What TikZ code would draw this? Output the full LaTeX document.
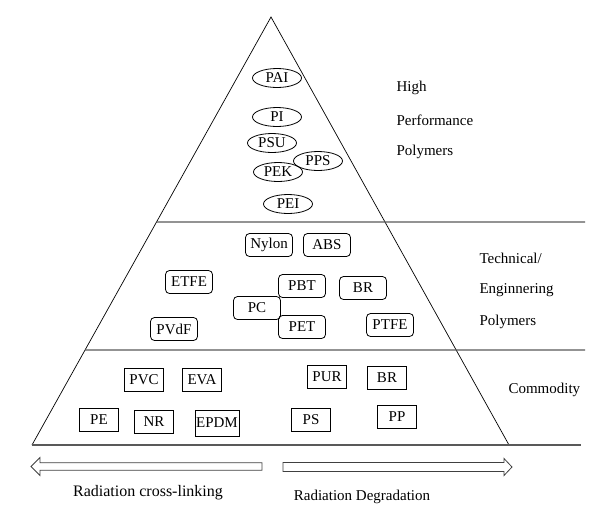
\documentclass[tikz,border=0pt]{standalone}
\usepackage{fontspec}
\setmainfont{Liberation Serif}
\usetikzlibrary{shapes.geometric,calc}

\begin{document}
\begin{tikzpicture}[x=1pt,y=-1pt,
  every node/.style={font=\fontsize{15}{17}\selectfont},
  ell/.style={draw,line width=0.8pt,ellipse,minimum width=49pt,minimum height=19pt,inner sep=0pt},
  rbox/.style={draw,line width=0.8pt,rounded corners=4pt,minimum width=47pt,minimum height=23pt,inner sep=0pt},
  sbox/.style={draw,line width=0.8pt,minimum width=39pt,minimum height=23pt,inner sep=0pt},
  level/.style={draw=black!65,line width=1.1pt},
  side/.style={draw,line width=0.7pt},
  band/.style={anchor=west}]
  \useasboundingbox (0,0) rectangle (589,504);

  % pyramid
  \coordinate (top) at (271,17);
  \coordinate (bl) at (32,445);
  \coordinate (br) at (509,445);
  \coordinate (l1) at ($(top)!0.479!(bl)$);
  \coordinate (l2) at ($(top)!0.778!(bl)$);
  \coordinate (r1) at (585,222);
  \coordinate (r2) at (585,350);
  \coordinate (rb) at (581,445);
  \draw[side] (bl) -- (top) -- (br);
  \draw[level] (l1) -- (r1);
  \draw[level] (l2) -- (r2);
  \draw[level] (bl) -- (rb);

  % high performance
  \node[ell] (pai) at (277,78) {PAI};
  \node[ell] (pi) at (277,117) {PI};
  \node[ell] (psu) at (272,143) {PSU};
  \node[ell] (pek) at (278,172) {PEK};
  \node[ell] (pps) at (318,161) {PPS};
  \node[ell] (pei) at (288,204) {PEI};

  % technical
  \node[rbox] (nylon) at (269,245) {Nylon};
  \node[rbox] (abs) at (327,245) {ABS};
  \node[rbox] (etfe) at (189,282) {ETFE};
  \node[rbox] (pbt) at (302,286) {PBT};
  \node[rbox] (brt) at (363,288) {BR};
  \node[rbox] (pc) at (257,308) {PC};
  \node[rbox] (pet) at (302,327) {PET};
  \node[rbox] (pvdf) at (174,329) {PVdF};
  \node[rbox] (ptfe) at (390,325) {PTFE};

  % commodity
  \node[sbox] (pvc) at (144,380) {PVC};
  \node[sbox] (eva) at (202,380) {EVA};
  \node[sbox] (pur) at (327,377) {PUR};
  \node[sbox] (brc) at (387,378) {BR};
  \node[sbox] (pe) at (99,420) {PE};
  \node[sbox] (nr) at (154,422) {NR};
  \node[sbox,minimum width=44pt,minimum height=26pt] (epdm) at (217,423) {EPDM};
  \node[sbox] (ps) at (311,420) {PS};
  \node[sbox] (pp) at (397,417) {PP};

  % band names
  \node[band] (high) at (393,88) {High};
  \node[band] (perf) at (393,120) {Performance};
  \node[band] (poly1) at (393,152) {Polymers};
  \node[band] (tech) at (476,258) {Technical/};
  \node[band] (eng) at (476,290) {Enginnering};
  \node[band] (poly2) at (476,322) {Polymers};
  \node[band] (comm) at (505,390) {Commodity};

  % arrows
  \draw[black!75,line width=0.8pt] (31,466.5) -- (40,457.5) -- (40,462.8) -- (262,462.8)
    -- (262,470.2) -- (40,470.2) -- (40,475.5) -- cycle;
  \draw[black!75,line width=0.8pt] (283,462.5) -- (504,462.5) -- (504,458.5) -- (512,467)
    -- (504,475.5) -- (504,471.5) -- (283,471.5) -- cycle;
  \node[font=\fontsize{16}{18}\selectfont] (xlink) at (148,493) {Radiation cross-linking};
  \node (degr) at (362,497) {Radiation Degradation};
\end{tikzpicture}
\end{document}
